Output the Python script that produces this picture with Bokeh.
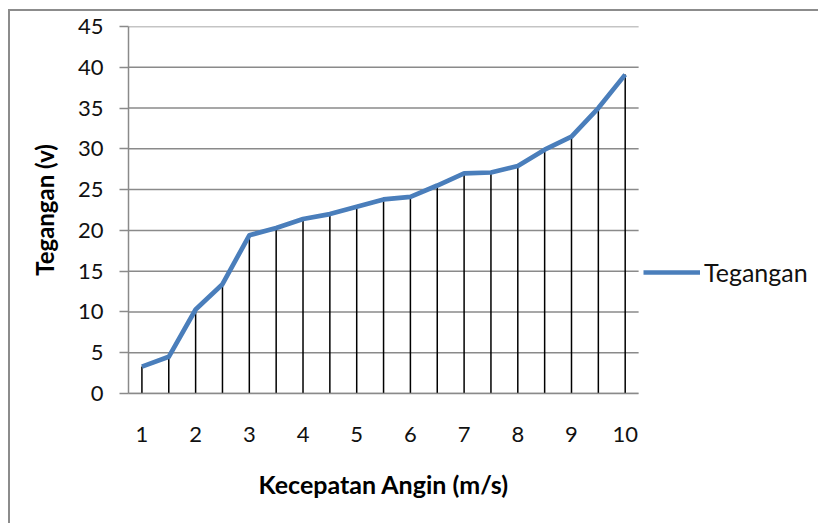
from bokeh.plotting import figure
from bokeh.models import Range1d, FixedTicker, Legend, LegendItem, Title
from bokeh.embed import file_html
from bokeh.resources import INLINE

speed = [1, 1.5, 2, 2.5, 3, 3.5, 4, 4.5, 5, 5.5, 6, 6.5, 7, 7.5, 8, 8.5, 9, 9.5, 10]
voltage = [3.3, 4.5, 10.3, 13.4, 19.4, 20.3, 21.4, 22.0, 22.9, 23.8, 24.1, 25.5,
           27.0, 27.1, 27.9, 29.9, 31.5, 35.0, 39.1]
x_ticks = [1, 2, 3, 4, 5, 6, 7, 8, 9, 10]
y_ticks = [0, 5, 10, 15, 20, 25, 30, 35, 40, 45]
zeros = [0] * len(speed)

FONT = "Lato"
GRID = "#8a8a8a"

# category-style axis: half a step of padding at each end
X_LO, X_HI = 0.75, 10.25
# extra room on the right (inside the frame) for the legend
X_VIEW_END = 13.6

p = figure(width=810, height=514, output_backend="svg", toolbar_location=None,
           x_range=Range1d(X_LO, X_VIEW_END), y_range=Range1d(0, 45),
           min_border_left=118, min_border_top=15, min_border_right=2,
           min_border_bottom=132)
p.styles = {"border-left": "2px solid #8c8c8c", "border-top": "2px solid #8c8c8c",
            "margin-left": "8px", "margin-top": "9px"}
p.outline_line_color = None
p.background_fill_color = "white"
p.border_fill_color = "white"

# horizontal gridlines limited to the plotting area
p.segment(x0=[X_LO] * len(y_ticks), y0=y_ticks, x1=[X_HI] * len(y_ticks), y1=y_ticks,
          line_color=GRID, line_width=1.5)
# drop lines
p.segment(x0=speed, y0=zeros, x1=speed, y1=voltage, line_color="black", line_width=1.5)
r = p.line(speed, voltage, line_color="#4a7ebb", line_width=4.7, line_join="round")

p.xgrid.grid_line_color = None
p.ygrid.grid_line_color = None

p.xaxis.ticker = FixedTicker(ticks=x_ticks)
p.yaxis.ticker = FixedTicker(ticks=y_ticks)
p.xaxis.bounds = (X_LO, X_HI)
for ax in (p.xaxis[0], p.yaxis[0]):
    ax.axis_line_color = GRID
    ax.axis_line_width = 1.5
    ax.major_tick_line_color = GRID
    ax.major_tick_line_width = 1.5
    ax.minor_tick_line_color = None
    ax.major_label_text_font = FONT
    ax.major_label_text_font_size = "22px"
    ax.major_label_text_color = "#111111"
    ax.axis_label_text_font = FONT
    ax.axis_label_text_font_style = "bold"
    ax.axis_label_text_color = "#000000"

p.yaxis.major_tick_out = 9
p.yaxis.major_tick_in = 0
p.yaxis.major_label_standoff = 16
p.yaxis.axis_label = "Tegangan (v)"
p.yaxis.axis_label_text_font_size = "24px"
p.yaxis.axis_label_standoff = 16

p.xaxis.major_tick_out = 0
p.xaxis.major_tick_in = 0
p.xaxis.major_label_standoff = 33

# x-axis title, centred under the data area (not under the legend area)
xtitle = Title(text="Kecepatan Angin (m/s)", align="left", offset=130, standoff=45,
               text_font=FONT, text_font_style="bold", text_font_size="25px",
               text_color="#000000")
p.add_layout(xtitle, "below")

legend = Legend(items=[LegendItem(label="Tegangan", renderers=[r])],
                location=(515, 106), orientation="vertical",
                border_line_color=None, background_fill_alpha=0,
                glyph_width=57, label_standoff=4, padding=2, margin=0,
                label_text_font=FONT, label_text_font_size="25px",
                label_text_color="#111111")
p.add_layout(legend, "center")

open("out.html", "w").write(file_html(p, INLINE))
